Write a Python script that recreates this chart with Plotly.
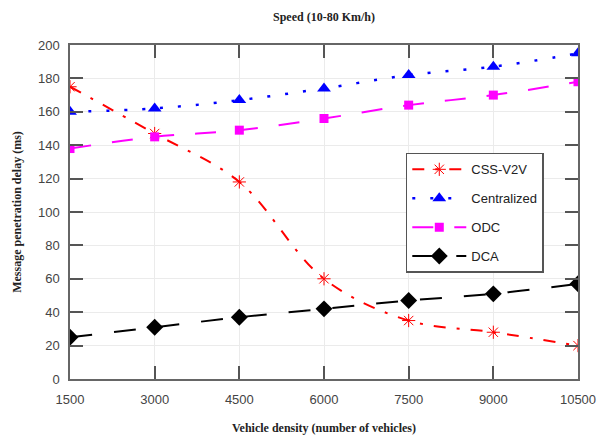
import plotly.graph_objects as go

x_vals = [1500, 3000, 4500, 6000, 7500, 9000, 10500]
css_v2v = [175, 147, 118, 60, 35, 28, 20]
centralized = [160, 162, 167, 174, 182, 187, 195]
odc = [138, 145, 149, 156, 164, 170, 178]
dca = [25, 31, 37, 42, 47, 51, 57]
y_ticks = list(range(0, 201, 20))

fig = go.Figure()
fig.add_trace(go.Scatter(x=x_vals, y=css_v2v, name="CSS-V2V", mode="lines+markers", legendgroup="a",
                         line=dict(color="red", dash="12px,11px,3px,11px", width=2, shape="spline"),
                         marker=dict(symbol="asterisk-open", size=11, color="red", line=dict(width=1, color="red"))))
fig.add_trace(go.Scatter(x=x_vals, y=centralized, name="Centralized", mode="lines+markers", legendgroup="b",
                         line=dict(color="blue", dash="3px,15px", width=2.5, shape="spline"),
                         marker=dict(symbol="triangle-up", size=12, color="blue")))
fig.add_trace(go.Scatter(x=x_vals, y=odc, name="ODC", mode="lines+markers", legendgroup="c",
                         line=dict(color="magenta", dash="21px,21px", width=2, shape="spline"),
                         marker=dict(symbol="square", size=9, color="magenta")))
fig.add_trace(go.Scatter(x=x_vals, y=dca, name="DCA", mode="lines+markers", legendgroup="d",
                         line=dict(color="black", dash="22px,22px", width=2, shape="spline"),
                         marker=dict(symbol="diamond", size=13, color="black")))

fig.update_layout(
    width=597, height=439,
    margin=dict(l=70, r=19, t=45, b=60, autoexpand=False),
    paper_bgcolor="white", plot_bgcolor="white",
    font=dict(family="Liberation Sans, Arial", size=13, color="#444"),
    title=dict(text="<b>Speed (10-80 Km/h)</b>", x=0.5427, xanchor="center", y=0.961, yanchor="middle",
               font=dict(family="Liberation Serif, Times New Roman", size=12, color="#222")),
    legend=dict(x=0.661, y=0.677, xanchor="left", yanchor="top",
                bgcolor="white", bordercolor="#555", borderwidth=1.5,
                font=dict(size=13, color="#222"), tracegroupgap=9, itemwidth=54,
                entrywidth=100, entrywidthmode="pixels"),
    showlegend=True,
)
fig.update_xaxes(range=[1500, 10500], tickvals=x_vals, ticktext=[str(v) for v in x_vals],
                 showgrid=True, gridcolor="#ebebeb", showline=True, linecolor="#666", linewidth=1.5,
                 mirror="ticks", ticks="inside", ticklen=13, tickcolor="#555", tickwidth=1.5,
                 zeroline=False, ticklabelstandoff=8, automargin=False,
                 title=dict(text="<b>Vehicle density (number of vehicles)</b>", standoff=17,
                            font=dict(family="Liberation Serif, Times New Roman", size=12, color="#222")))
fig.update_yaxes(range=[0, 200], tickvals=y_ticks, showgrid=True, gridcolor="#ebebeb", showline=True,
                 linecolor="#666", linewidth=1.5, mirror="ticks", ticks="inside", ticklen=13,
                 tickcolor="#555", tickwidth=1.5, zeroline=False, ticklabelstandoff=6, automargin=False,
                 title=dict(text="<b>Message penetration delay (ms)</b>", standoff=14,
                            font=dict(family="Liberation Serif, Times New Roman", size=12, color="#222")))

fig.write_html("out.html", config={"displayModeBar": False},
               post_script="document.body.style.margin='0';document.body.style.overflow='hidden';")
